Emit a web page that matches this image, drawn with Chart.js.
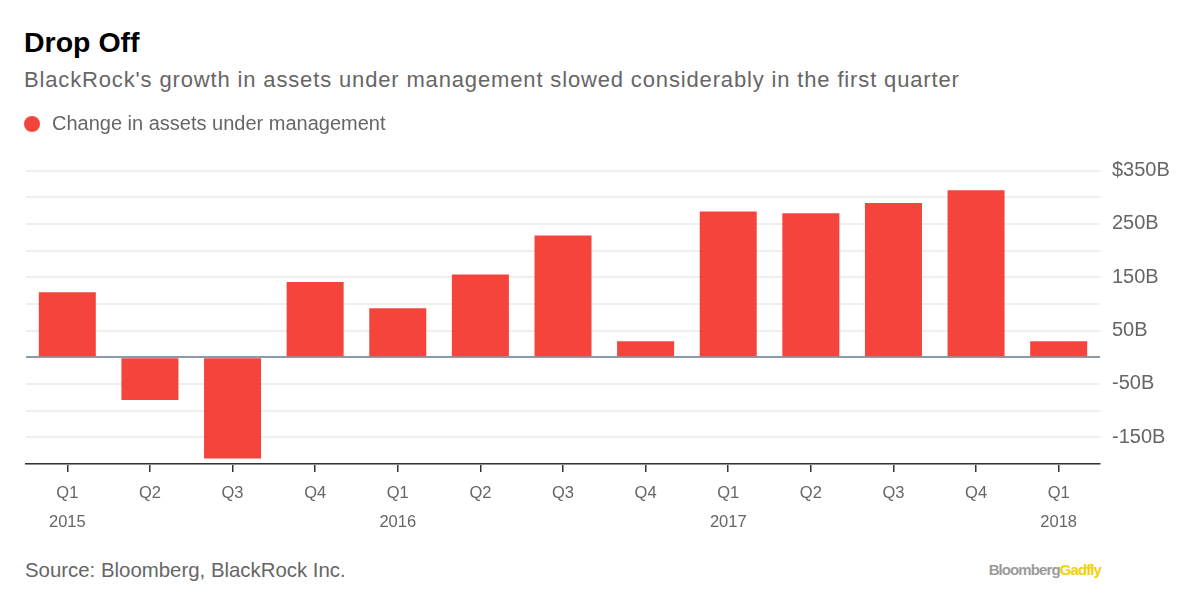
<!DOCTYPE html>
<html>
<head>
<meta charset="utf-8">
<script src="https://cdn.jsdelivr.net/npm/chart.js@4"></script>
<style>
  html, body { margin:0; padding:0; background:#fff; }
  body { width:1200px; height:594px; position:relative; overflow:hidden; font-family:"Liberation Sans", Arial, sans-serif; }
  #title { position:absolute; left:24px; top:24px; font-size:28.5px; font-weight:bold; color:#000; line-height:36px; }
  #subtitle { position:absolute; left:24px; top:66px; font-size:22px; letter-spacing:0.85px; color:#666; line-height:28px; }
  #source { position:absolute; left:25px; top:557px; font-size:20.4px; color:#666; line-height:26px; }
  #logo { position:absolute; right:99px; top:560px; font-size:15px; font-weight:bold; letter-spacing:-0.9px; line-height:20px; }
  #logo .b { color:#9b9b9b; } #logo .g { color:#f5d000; }
  #wrap { position:absolute; left:0; top:102px; width:1200px; height:442px; }
</style>
</head>
<body>
<div id="title">Drop Off</div>
<div id="subtitle">BlackRock's growth in assets under management slowed considerably in the first quarter</div>
<div id="wrap"><canvas id="c"></canvas></div>
<div id="source">Source: Bloomberg, BlackRock Inc.</div>
<div id="logo"><span class="b">Bloomberg</span><span class="g">Gadfly</span></div>
<script>
const quarters = ["Q1","Q2","Q3","Q4","Q1","Q2","Q3","Q4","Q1","Q2","Q3","Q4","Q1"];
const years    = ["2015","","","","2016","","","","2017","","","","2018"];
const changeAUM = [122, -80, -190, 141, 92, 155, 228, 30, 273, 270, 289, 313, 30];
const seriesName = "Change in assets under management";
const yMin = -200, yMax = 350, yStep = 50;

const labels = quarters.map((q, i) => [q, years[i]]);
const FONT = '"Liberation Sans", Arial, sans-serif';

const legendGap = {
  id: 'legendGap',
  beforeInit(chart) {
    const origFit = chart.legend.fit;
    chart.legend.fit = function () {
      origFit.bind(chart.legend)();
      this.height += 26.5;
    };
  },
  afterLayout(chart) {
    chart.legend.left = 10;
  }
};

new Chart(document.getElementById('c'), {
  type: 'bar',
  data: {
    labels: labels,
    datasets: [{
      label: seriesName,
      data: changeAUM,
      backgroundColor: '#f5443c',
      borderWidth: 0,
      barPercentage: 0.69,
      categoryPercentage: 1.0
    }]
  },
  plugins: [legendGap],
  options: {
    responsive: true,
    maintainAspectRatio: false,
    animation: false,
    layout: { padding: { left: 26, right: 0, top: 0, bottom: 0 } },
    plugins: {
      tooltip: { enabled: false },
      legend: {
        display: true,
        position: 'top',
        align: 'start',
        labels: {
          usePointStyle: true,
          pointStyle: 'circle',
          boxWidth: 20,
          boxHeight: 11.3,
          padding: 12,
          color: '#666',
          font: { family: FONT, size: 20 }
        }
      }
    },
    scales: {
      x: {
        offset: true,
        grid: {
          offset: false,
          drawOnChartArea: false,
          drawTicks: true,
          tickLength: 8,
          color: '#333',
          lineWidth: 1.5
        },
        border: { display: true, color: '#333', width: 1.5 },
        ticks: {
          color: '#666',
          padding: 8,
          maxRotation: 0,
          autoSkip: false,
          font: { family: FONT, size: 16.5, lineHeight: 1.7 }
        }
      },
      y: {
        position: 'right',
        min: yMin,
        max: yMax,
        afterFit: (s) => { s.width = 100; },
        grid: {
          drawTicks: false,
          color: (ctx) => ctx.tick && ctx.tick.value === 0 ? '#8c99a6' : '#efefef',
          lineWidth: 2
        },
        border: { display: false },
        ticks: {
          stepSize: yStep,
          autoSkip: false,
          padding: 12,
          color: '#666',
          font: { family: FONT, size: 20 },
          callback: (v) => {
            if (Math.abs(v) % 100 !== 50) return '';
            return (v === yMax ? '$' : '') + v + 'B';
          }
        }
      }
    }
  }
});
</script>
</body>
</html>
